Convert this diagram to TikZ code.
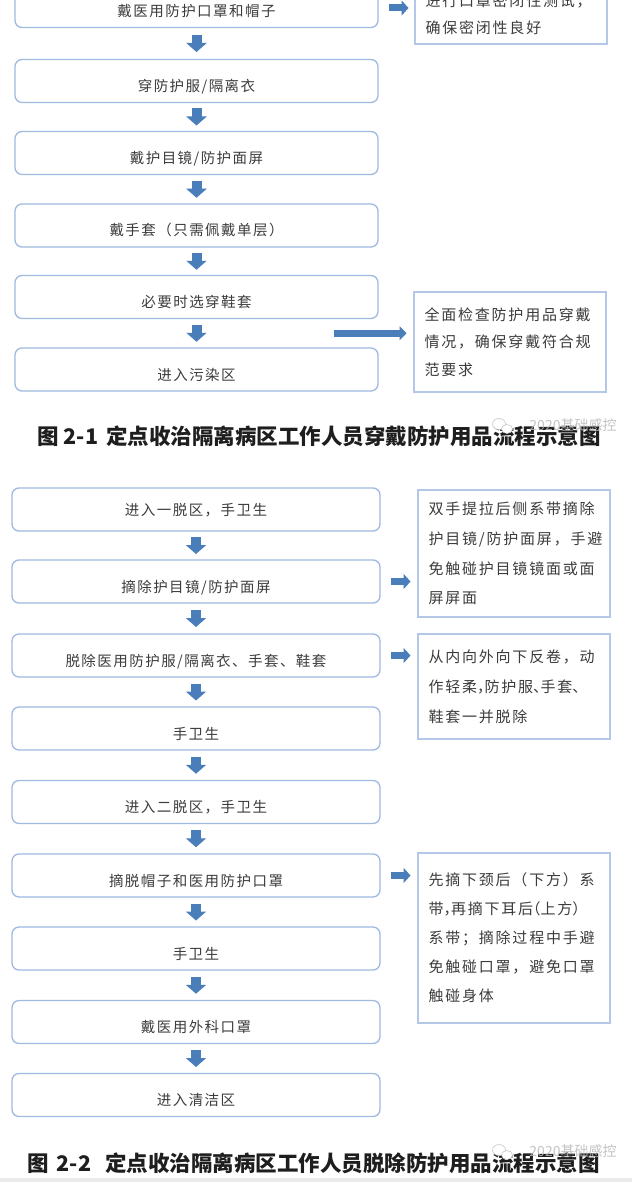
\documentclass[tikz,border=0pt]{standalone}
\usepackage{fontspec}
\setmainfont{Noto Sans CJK SC}
\newfontfamily\boxfont[LetterSpace=10]{Noto Sans CJK SC}
\newfontfamily\sidefont[LetterSpace=12]{Noto Sans CJK SC}
\usetikzlibrary{arrows.meta,calc}
\definecolor{boxline}{RGB}{160,185,225}
\definecolor{sideline}{RGB}{180,199,231}
\definecolor{arrowc}{RGB}{74,126,187}
\definecolor{txt}{RGB}{60,60,60}
\definecolor{captxt}{RGB}{30,30,30}
\definecolor{bandgray}{RGB}{235,235,235}
\newcommand\halfp[1]{{\addfontfeature{RawFeature=+halt}#1}}
\newcommand\flowarrow[2]{\draw[darr] ($(#1.south)!.5!(#2.north)+(0,-8.5)$) -- ($(#1.south)!.5!(#2.north)+(0,8.5)$);}
\tikzset{
  mainbox/.style={draw=boxline, line width=1.3pt, rounded corners=7pt,
    minimum width=#1, minimum height=43pt, inner sep=0pt, text=txt,
    font=\boxfont\fontsize{14.5}{17}\selectfont, text height=23pt, text depth=2pt},
  mainbox/.default=368pt,
  textmid/.style={text height=13pt, text depth=2pt},
  sidebox/.style={draw=sideline, line width=2pt, inner xsep=11pt, inner ysep=0pt,
    text width=170pt, align=left, text=txt,
    font=\sidefont\fontsize{15}{#1}\selectfont},
  darr/.style={draw=arrowc, line width=10pt, -{Triangle[width=20pt,length=9pt]}},
  rarr/.style={draw=arrowc, line width=7pt, -{Triangle[width=15pt,length=7pt]}},
  larr/.style={draw=arrowc, line width=7pt, -{Triangle[width=14pt,length=7pt]}},
  caption/.style={anchor=west, inner sep=0pt, text=captxt, font=\bfseries\fontsize{21.5}{24}\selectfont},
  wmark/.style={inner sep=0pt, text=gray!55, opacity=0.85, font=\fontsize{14}{16}\selectfont}
}
\begin{document}
\begin{tikzpicture}[x=1pt,y=-1pt]
\useasboundingbox (0,0) rectangle (632,1182);
\clip (0,0) rectangle (632,1182);
\fill[white] (0,0) rectangle (632,1182);
\fill[bandgray] (0,1178) rectangle (632,1182);

% ---- top flow: donning
\node[mainbox=363pt] (t1) at (196.5,6) {戴医用防护口罩和帽子};
\node[mainbox=363pt] (t2) at (196.5,81) {穿防护服/隔离衣};
\node[mainbox=363pt] (t3) at (196.5,153) {戴护目镜/防护面屏};
\node[mainbox=363pt] (t4) at (196.5,225.5) {戴手套（只需佩戴单层）};
\node[mainbox=363pt] (t5) at (196.5,297) {必要时选穿鞋套};
\node[mainbox=363pt] (t6) at (196.5,369.5) {进入污染区};
\flowarrow{t1}{t2}
\flowarrow{t2}{t3}
\flowarrow{t3}{t4}
\flowarrow{t4}{t5}
\flowarrow{t5}{t6}

\node[sidebox=27pt, minimum height=60pt] (n1) at (510.5,14) {进行口罩密闭性测试，\\确保密闭性良好};
\node[sidebox=27.5pt, minimum height=100pt] (n2) at (509.5,342) {全面检查防护用品穿戴\\情况，确保穿戴符合规\\范要求};
\draw[rarr] ($(t1.east)+(10,2)$) -- ($(t1.east -| n1.west)+(-5,2)$);
\coordinate (la) at ($(t5.south east)!.5!(t6.north east)+(-45,0)$);
\draw[larr] (la) -- ($(la -| n2.west)+(-6,0)$);

\node[caption] (cap1) at (37,436) {图\hspace{5pt}2-1\hspace{8pt}定点收治隔离病区工作人员穿戴防护用品流程示意图};
\node[wmark] (wm1) at (573,425) {2020基础感控};
\draw[gray!45, fill=white, line width=0.6pt] (499,424) ellipse (6.5 and 5.5);
\draw[gray!45, fill=white, line width=0.6pt] (507,429) ellipse (5.5 and 4.5);

% ---- bottom flow: doffing
\node[mainbox, textmid] (b1) at (196,509.5) {进入一脱区，手卫生};
\node[mainbox] (b2) at (196,581.5) {摘除护目镜/防护面屏};
\node[mainbox] (b3) at (196,655.5) {脱除医用防护服/隔离衣、手套、鞋套};
\node[mainbox] (b4) at (196,728.5) {手卫生};
\node[mainbox] (b5) at (196,802) {进入二脱区，手卫生};
\node[mainbox] (b6) at (196,875.5) {摘脱帽子和医用防护口罩};
\node[mainbox] (b7) at (196,948.5) {手卫生};
\node[mainbox] (b8) at (196,1022) {戴医用外科口罩};
\node[mainbox] (b9) at (196,1095) {进入清洁区};
\flowarrow{b1}{b2}
\flowarrow{b2}{b3}
\flowarrow{b3}{b4}
\flowarrow{b4}{b5}
\flowarrow{b5}{b6}
\flowarrow{b6}{b7}
\flowarrow{b7}{b8}
\flowarrow{b8}{b9}

\node[sidebox=29.5pt, minimum height=127pt] (s1) at (513.5,553.5) {双手提拉后侧系带摘除\\护目镜/防护面屏，手避\\免触碰护目镜镜面或面\\屏屏面};
\node[sidebox=30pt, minimum height=105pt] (s2) at (513.5,686.5) {从内向外向下反卷，动\\作轻柔\halfp{，}防护服\halfp{、}手套\halfp{、}\\鞋套一并脱除};
\node[sidebox=29pt, minimum height=170pt] (s3) at (513.5,938) {先摘下颈后（下方）系\\带\halfp{，}再摘下耳后\halfp{（}上方\halfp{）}\\系带；摘除过程中手避\\免触碰口罩，避免口罩\\触碰身体};
\draw[rarr] ($(b2.east)+(10,0)$) -- ($(b2.east -| s1.west)+(-6,0)$);
\draw[rarr] ($(b3.east)+(10,0)$) -- ($(b3.east -| s2.west)+(-6,0)$);
\draw[rarr] ($(b6.east)+(10,0)$) -- ($(b6.east -| s3.west)+(-6,0)$);

\node[caption] (cap2) at (27,1163) {图\hspace{8pt}2-2\hspace{14pt}定点收治隔离病区工作人员脱除防护用品流程示意图};
\node[wmark] (wm2) at (573,1151) {2020基础感控};
\draw[gray!45, fill=white, line width=0.6pt] (499,1150) ellipse (6.5 and 5.5);
\draw[gray!45, fill=white, line width=0.6pt] (507,1155) ellipse (5.5 and 4.5);
\end{tikzpicture}
\end{document}
